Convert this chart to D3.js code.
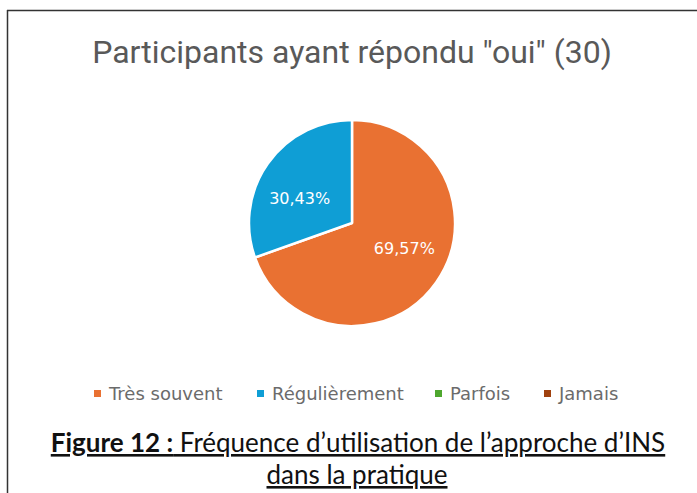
<!DOCTYPE html>
<html>
<head>
<meta charset="utf-8">
<script src="https://cdn.jsdelivr.net/npm/d3@7"></script>
<style>
  body { margin: 0; background: #fff; }
</style>
</head>
<body>
<div id="chart"></div>
<script>
// chart data
const categories = ["Très souvent", "Régulièrement", "Parfois", "Jamais"];
const counts = [16, 7, 0, 0];
const percentLabels = ["69,57%", "30,43%", "", ""];
const colors = ["#E97132", "#0F9ED5", "#4EA72E", "#A0410E"];

const width = 697, height = 493;

const svg = d3
  .select("#chart")
  .append("svg")
  .attr("width", width)
  .attr("height", height);

// frame (top and left edges visible)
svg.append("line")
  .attr("x1", 7).attr("y1", 10.5).attr("x2", width).attr("y2", 10.5)
  .attr("stroke", "#333").attr("stroke-width", 1.5);
svg.append("line")
  .attr("x1", 7.5).attr("y1", 10).attr("x2", 7.5).attr("y2", height)
  .attr("stroke", "#333").attr("stroke-width", 1.5);

// title
svg.append("text")
  .attr("x", 352)
  .attr("y", 63)
  .attr("text-anchor", "middle")
  .style("font-family", "Roboto")
  .style("font-size", "32px")
  .style("fill", "#595959")
  .text('Participants ayant répondu "oui" (30)');

// pie
const cx = 352, cy = 223, radius = 103;
const g = svg.append("g").attr("transform", `translate(${cx},${cy})`);

const pie = d3.pie().sort(null).value((d) => d);
const arcs = pie(counts);
const arc = d3.arc().innerRadius(0).outerRadius(radius);

g.selectAll("path")
  .data(arcs.filter((d) => d.value > 0))
  .join("path")
  .attr("d", arc)
  .attr("fill", (d) => colors[d.index])
  .attr("stroke", "#fff")
  .attr("stroke-width", 2.5)
  .attr("stroke-linejoin", "round");

// labels (slightly rotated from slice middle, as in the original)
const labelR = 58;
g.selectAll("text")
  .data(arcs.filter((d) => d.value > 0))
  .join("text")
  .attr("x", (d) => labelR * Math.sin((d.startAngle + d.endAngle) / 2 - 0.17))
  .attr("y", (d) => -labelR * Math.cos((d.startAngle + d.endAngle) / 2 - 0.17))
  .attr("dy", "0.35em")
  .attr("text-anchor", "middle")
  .style("font-family", "DejaVu Sans")
  .style("font-size", "16px")
  .style("fill", "#fff")
  .text((d) => percentLabels[d.index]);

// legend
const legendX = [94, 257, 435, 544];
const legend = svg.append("g").selectAll("g")
  .data(categories)
  .join("g")
  .attr("transform", (d, i) => `translate(${legendX[i]},393.5)`);

legend.append("rect")
  .attr("x", 0).attr("y", -3.5)
  .attr("width", 7).attr("height", 7)
  .attr("fill", (d, i) => colors[i]);

legend.append("text")
  .attr("x", 15)
  .attr("dy", "0.35em")
  .style("font-family", "DejaVu Sans")
  .style("font-size", "18px")
  .style("fill", "#6b6b6b")
  .text((d) => d);

// caption
const caption = svg.append("text")
  .attr("x", 358)
  .attr("y", 452)
  .attr("text-anchor", "middle")
  .style("font-family", "Lato")
  .style("font-size", "26px")
  .style("fill", "#111")
  .style("text-decoration", "underline");
caption.append("tspan").style("font-weight", "bold").text("Figure 12 :");
caption.append("tspan").text(" Fréquence d’utilisation de l’approche d’INS");

svg.append("text")
  .attr("x", 357)
  .attr("y", 484)
  .attr("text-anchor", "middle")
  .style("font-family", "Lato")
  .style("font-size", "26px")
  .style("fill", "#111")
  .style("text-decoration", "underline")
  .text("dans la pratique");
</script>
</body>
</html>
